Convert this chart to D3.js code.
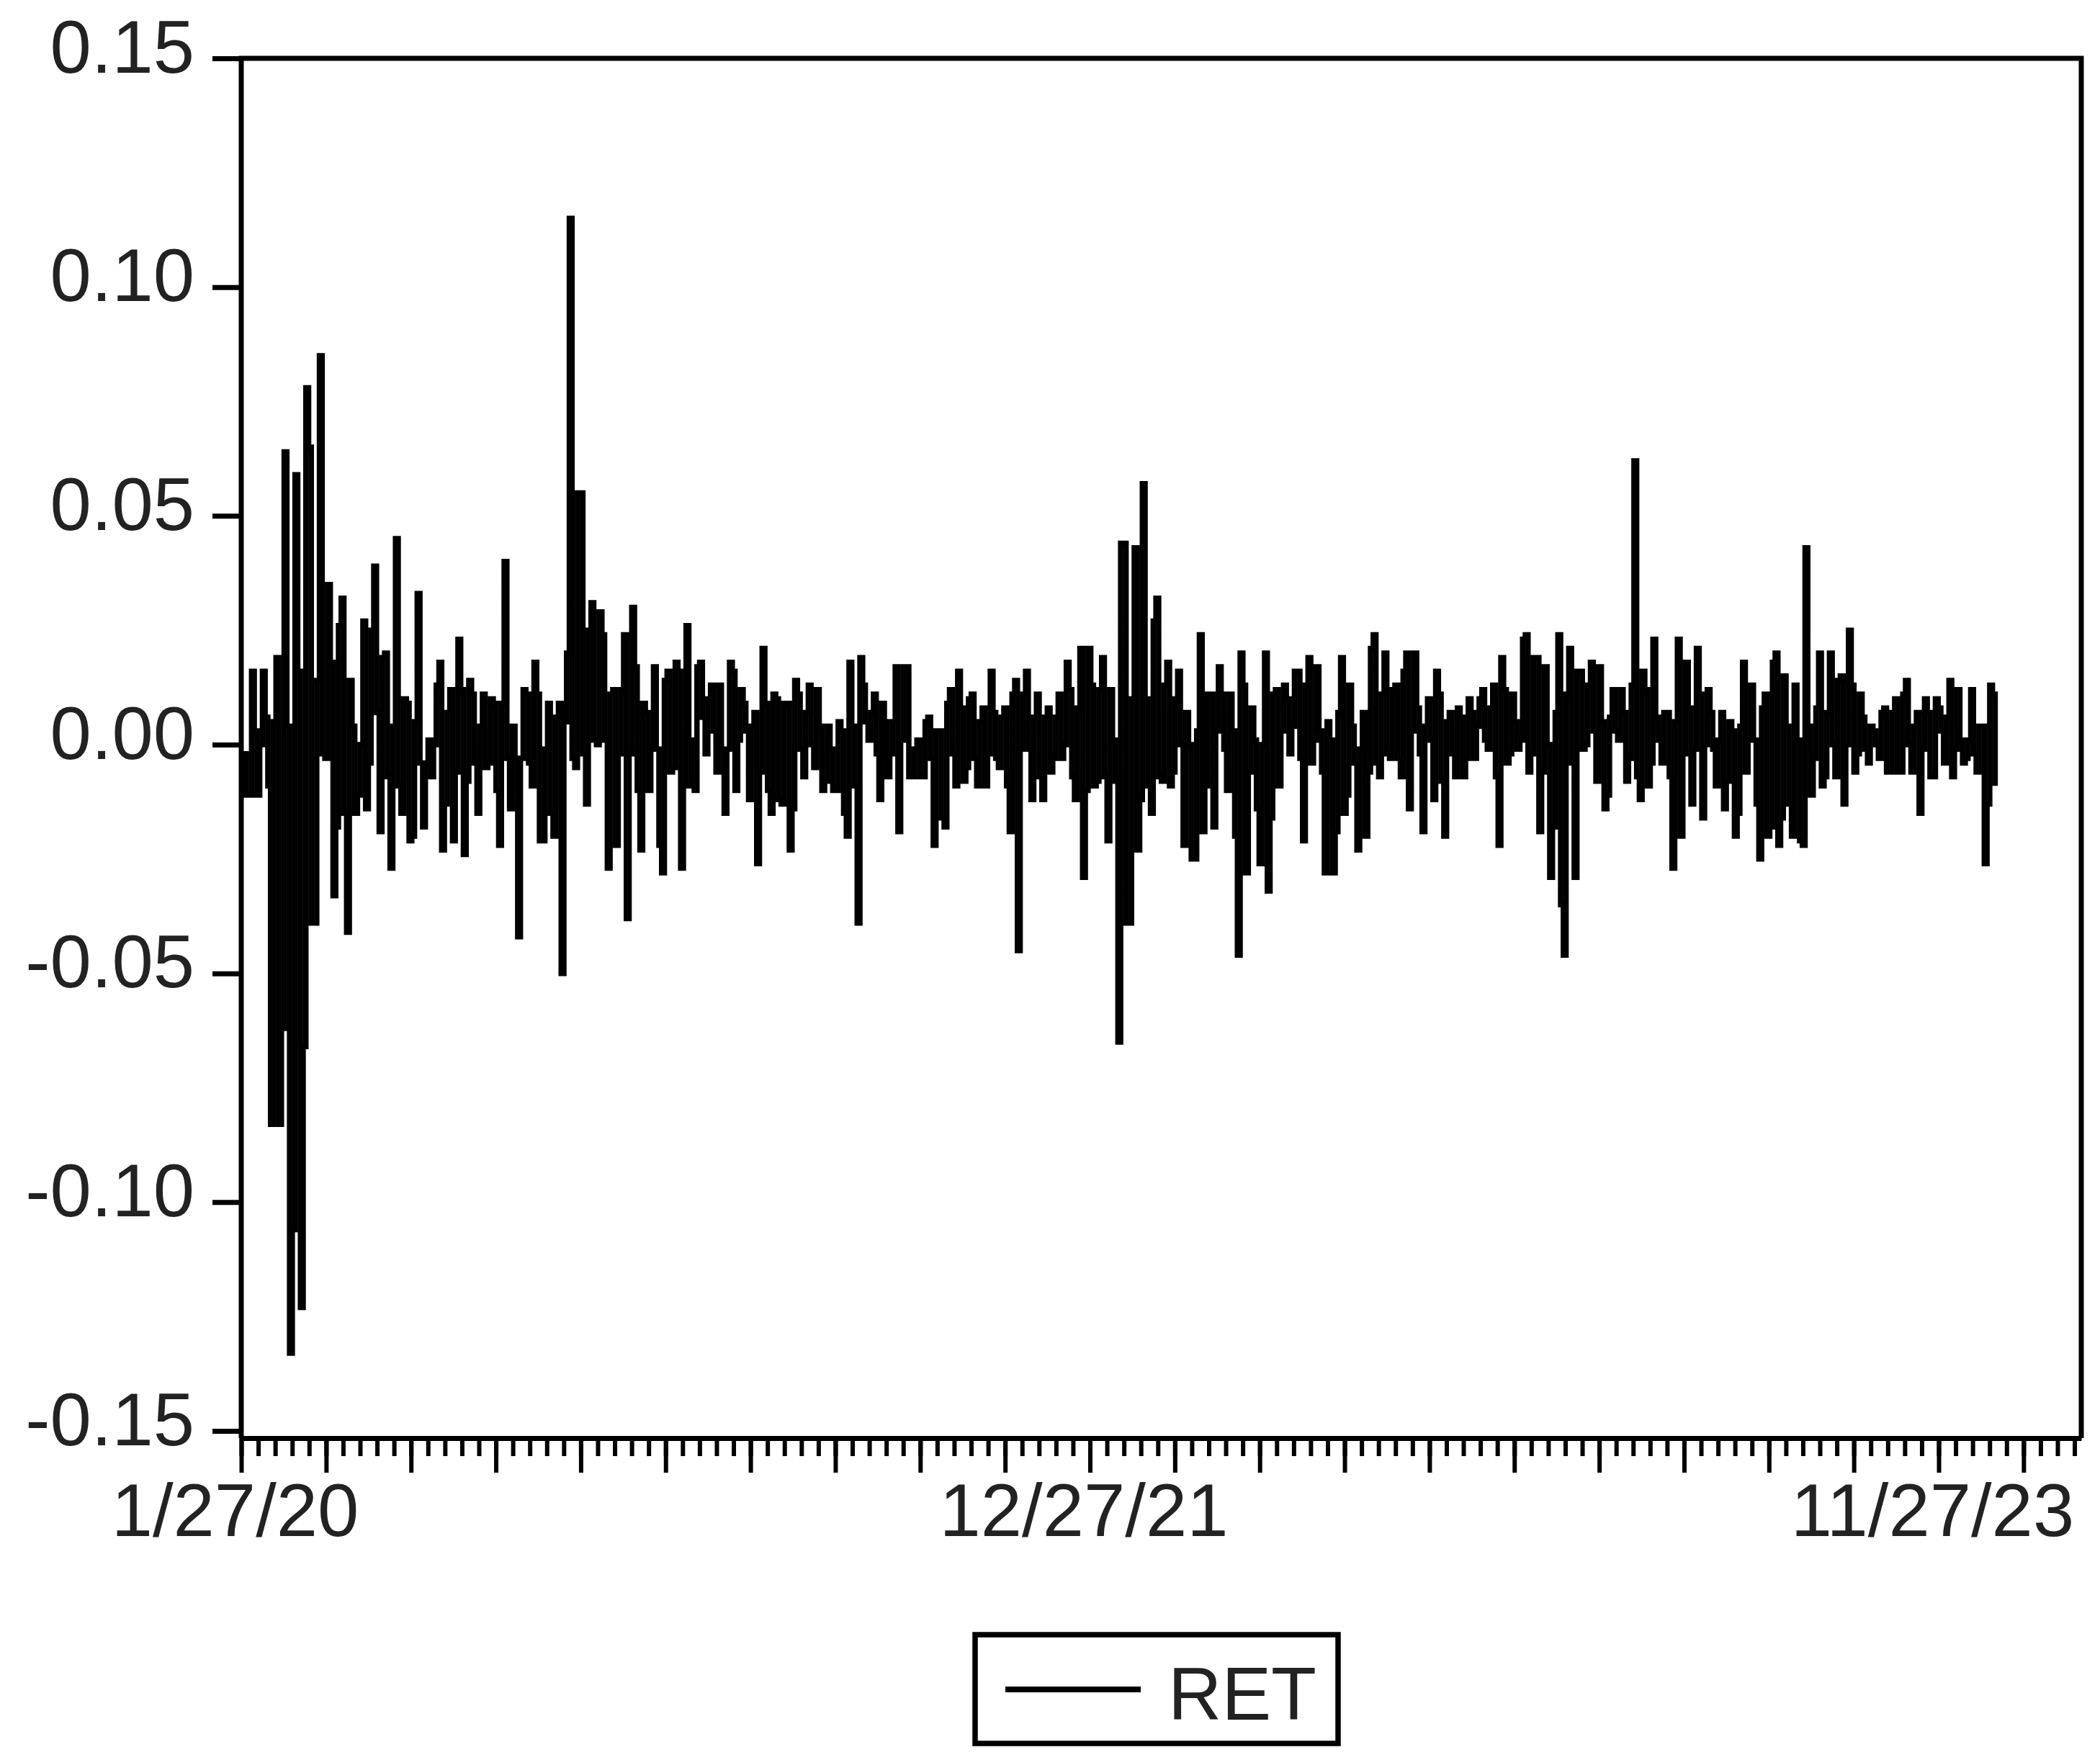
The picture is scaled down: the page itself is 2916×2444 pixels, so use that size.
<!DOCTYPE html>
<html><head><meta charset="utf-8">
<script src="https://cdn.jsdelivr.net/npm/d3@7"></script>
<style>
html,body{margin:0;padding:0;background:#fff;}
svg{display:block;}
text{font-family:"Liberation Sans", Arial, "DejaVu Sans", sans-serif;}
</style></head>
<body>
<svg id="chart" width="2916" height="2444"></svg>
<script>
const ret = [
 -0.002,-0.011, -0.011,0.016, 0.003,-0.011, 0.000,0.016, 0.006,-0.009,
 -0.083,0.005, 0.019,-0.083, -0.062,0.064, 0.004,-0.133, -0.106,0.059,
 0.016,-0.123, -0.066,0.078, 0.065,-0.039, -0.039,0.014, 0.085,-0.002,
 -0.003,0.035, 0.018,-0.033, -0.018,0.026, 0.032,-0.015, -0.041,0.014,
 0.004,-0.015, -0.011,0.000, 0.027,-0.014, -0.004,0.025, 0.039,0.007,
 -0.019,0.019, 0.020,-0.007, -0.027,0.004, 0.045,-0.009, -0.015,0.010,
 0.009,-0.021, -0.020,0.005, 0.033,-0.004, -0.018,-0.004, 0.001,-0.007,
 0.000,0.013, 0.018,-0.023, -0.013,0.007, 0.012,-0.021, -0.006,0.023,
 0.012,-0.024, -0.008,0.014, 0.011,-0.004, -0.015,0.004, 0.011,-0.005,
 -0.004,0.010, 0.009,-0.010, -0.022,0.009, 0.040,-0.003, -0.014,0.004,
 -0.003,-0.042, -0.003,0.012, 0.011,-0.004, -0.009,0.018, 0.011,-0.021,
 -0.021,-0.001, 0.009,-0.015, -0.020,0.006, 0.009,-0.050, 0.005,0.020,
 0.115,-0.003, -0.005,0.055, 0.055,-0.002, -0.013,0.025, 0.031,0.001,
 0.000,0.029, 0.024,0.001, -0.027,0.011, 0.012,-0.022, -0.002,0.012,
 0.024,-0.038, -0.002,0.030, 0.017,-0.010, -0.023,0.009, 0.007,-0.010,
 -0.001,0.017, -0.001,-0.022, -0.028,0.014, 0.016,-0.006, -0.005,0.018,
 0.016,-0.027, -0.009,0.026, 0.001,-0.009, -0.010,0.017, 0.018,0.006,
 -0.002,0.010, 0.013,0.003, -0.006,0.013, -0.001,-0.015, -0.001,0.018,
 0.016,-0.010, 0.001,0.012, 0.009,0.003, -0.012,0.004, 0.007,-0.026,
 -0.006,0.021, 0.009,-0.010, -0.015,0.011, 0.010,-0.012, -0.013,0.009,
 0.009,-0.023, -0.014,0.014, 0.011,-0.001, -0.007,0.007, 0.013,0.000,
 -0.005,0.012, 0.004,-0.010, -0.008,0.004, -0.001,-0.010, -0.010,0.005,
 0.003,-0.015, -0.020,0.018, 0.004,-0.009, -0.039,0.019, 0.013,0.005,
 0.001,0.007, 0.011,-0.002, -0.012,0.009, 0.005,-0.007, -0.002,0.005,
 0.017,-0.019, 0.001,0.017, 0.017,-0.007, -0.007,-0.001, 0.001,-0.007,
 -0.007,0.005, 0.006,-0.003, -0.022,0.003, 0.003,-0.016, -0.018,0.009,
 0.012,-0.002, -0.009,0.016, 0.008,-0.008, -0.005,0.010, 0.011,-0.003,
 -0.009,0.005, 0.008,-0.009, -0.002,0.016, 0.007,-0.003, -0.005,0.006,
 0.008,-0.009, -0.019,0.011, 0.014,-0.045, -0.001,0.011, 0.016,-0.001,
 -0.012,0.006, 0.011,-0.007, -0.012,0.006, 0.008,-0.006, -0.003,0.006,
 0.011,-0.003, 0.000,0.018, 0.012,-0.007, -0.012,0.008, 0.021,-0.029,
 -0.010,0.021, 0.013,-0.009, -0.008,0.012, 0.019,-0.007, -0.021,0.012,
 0.001,-0.008, -0.065,0.044, 0.044,-0.039, -0.039,0.010, 0.043,-0.023,
 -0.012,0.057, 0.010,-0.009, -0.015,0.027, 0.032,-0.007, -0.008,0.013,
 0.018,-0.009, -0.006,0.010, 0.016,0.000, -0.022,0.007, 0.000,-0.025,
 -0.025,0.003, 0.024,-0.019, -0.009,0.011, 0.011,-0.018, 0.003,0.017,
 0.011,-0.001, -0.010,0.011, 0.003,-0.020, -0.046,0.020, 0.013,-0.028,
 -0.006,0.008, 0.001,-0.014, -0.026,0.000, 0.020,-0.032, -0.016,0.011,
 0.012,-0.009, 0.003,0.013, 0.010,-0.002, 0.004,0.016, 0.016,-0.003,
 -0.021,0.013, 0.019,-0.004, 0.001,0.017, 0.003,-0.006, -0.028,0.005,
 0.001,-0.028, -0.019,0.007, 0.019,-0.015, -0.011,0.013, 0.004,-0.004,
 -0.023,-0.001, 0.007,-0.020, -0.006,0.021, 0.024,-0.004, -0.007,0.011,
 0.020,-0.002, -0.003,0.012, 0.013,-0.003, -0.007,0.016, 0.020,-0.014,
 0.003,0.020, 0.008,-0.002, -0.019,0.004, 0.010,0.001, -0.012,0.016,
 0.011,-0.008, -0.020,0.005, 0.007,-0.002, -0.007,0.008, 0.006,-0.007,
 -0.003,0.010, 0.007,-0.003, 0.004,0.010, 0.012,0.001, -0.001,0.008,
 0.013,-0.007, -0.022,0.019, 0.012,-0.004, -0.002,0.011, 0.005,-0.001,
 0.001,0.023, 0.024,-0.006, -0.002,0.019, 0.019,-0.019, -0.006,0.017,
 0.000,-0.029, -0.018,0.007, 0.024,-0.035, -0.046,0.011, 0.021,-0.004,
 -0.029,0.016, 0.016,-0.001, 0.000,0.013, 0.018,0.003, -0.008,0.017,
 0.005,-0.014, -0.011,0.006, 0.012,0.003, 0.001,0.012, 0.007,-0.008,
 -0.003,0.013, 0.062,-0.007, -0.012,0.016, 0.012,-0.009, -0.004,0.023,
 0.006,0.001, -0.004,0.007, 0.007,-0.007, -0.027,0.005, 0.023,-0.020,
 -0.002,0.018, 0.008,-0.013, -0.001,0.021, 0.011,-0.016, 0.000,0.012,
 0.007,-0.001, -0.009,0.001, 0.007,-0.014, -0.008,0.005, 0.003,-0.020,
 -0.015,0.004, 0.018,-0.006, 0.001,0.013, 0.001,-0.013, -0.025,0.008,
 0.011,-0.020, -0.018,0.018, 0.020,-0.022, -0.016,0.015, 0.004,-0.013,
 -0.020,0.013, 0.001,-0.021, -0.022,0.043, 0.004,-0.011, -0.003,0.008,
 0.020,-0.009, -0.007,0.007, 0.020,0.000, -0.007,0.014, 0.015,-0.013,
 0.000,0.025, 0.013,-0.006, -0.002,0.011, 0.006,-0.001, -0.004,0.004,
 0.003,0.000, -0.003,0.007, 0.008,-0.006, -0.006,0.007, 0.010,-0.006,
 -0.006,0.011, 0.014,0.000, -0.006,0.004, 0.007,-0.015, -0.001,0.010,
 0.007,-0.007, -0.007,0.010, 0.008,0.003, -0.004,0.006, 0.014,-0.007,
 -0.001,0.012, 0.001,-0.004, -0.003,0.001, 0.012,-0.002, -0.006,0.004,
 0.004,-0.026, -0.013,0.013, 0.011,-0.009
];
const obsStart = 1.27, obsStep = 1.6;       // observation index of first value, spacing
const xMinorTickObs = d3.range(0, 1081, 10);
const xMajorTickObs = d3.range(0, 1051, 50);
const xLabelObs = [0, 500, 1000];
const xLabels = ["1/27/20", "12/27/21", "11/27/23"];
const yTicks = [-0.15, -0.10, -0.05, 0, 0.05, 0.10, 0.15];
const yTickLabels = ["-0.15", "-0.10", "-0.05", "0.00", "0.05", "0.10", "0.15"];
const seriesName = "RET";

const W = 2916, H = 2444;
const L = 335, R = 2890, T = 81, B = 1987, AX = 1997;
const FS = 103;
const svg = d3.select("#chart");
svg.append("rect").attr("width", W).attr("height", H).attr("fill", "#fff");

const x = d3.scaleLinear().domain([0, 1084]).range([L, R]);
const y = d3.scaleLinear().domain([-0.15, 0.15]).range([B, T]);

// series line (pixel-column look of the original: step after each observation)
svg.append("path").datum(ret)
  .attr("fill", "none").attr("stroke", "#000").attr("stroke-width", 7.5)
  .attr("stroke-linejoin", "miter").attr("stroke-miterlimit", 2)
  .attr("d", d3.line().curve(d3.curveStepAfter)
    .x((d, i) => x(obsStart + i * obsStep)).y(d => y(d)));

// frame (left, top, right)
svg.append("path").attr("d", `M${L},${AX}V${T}H${R}V${AX}`)
  .attr("fill", "none").attr("stroke", "#000").attr("stroke-width", 7);

// y axis
const gy = svg.append("g").attr("transform", `translate(${L},0)`)
  .call(d3.axisLeft(y).tickValues(yTicks).tickSize(40).tickPadding(25)
    .tickFormat(d => yTickLabels[yTicks.indexOf(d)]));
gy.select(".domain").remove();
gy.selectAll(".tick line").attr("stroke", "#000").attr("stroke-width", 7);
gy.selectAll(".tick text").attr("font-size", FS).attr("fill", "#222")
  .attr("font-family", '"Liberation Sans", Arial, sans-serif').attr("dy", 19);

// x axis minor ticks + axis line
const gxm = svg.append("g").attr("transform", `translate(0,${AX})`)
  .call(d3.axisBottom(x).tickValues(xMinorTickObs).tickSize(25).tickSizeOuter(0).tickFormat(""));
gxm.select(".domain").attr("stroke", "#000").attr("stroke-width", 7);
gxm.selectAll(".tick line").attr("stroke", "#000").attr("stroke-width", 6);

// x axis major ticks + labels
const gxM = svg.append("g").attr("transform", `translate(0,${AX})`)
  .call(d3.axisBottom(x).tickValues(xMajorTickObs).tickSize(48).tickPadding(15).tickSizeOuter(0)
    .tickFormat(d => { const i = xLabelObs.indexOf(d); return i >= 0 ? xLabels[i] : ""; }));
gxM.select(".domain").remove();
gxM.selectAll(".tick line").attr("stroke", "#000").attr("stroke-width", 6);
gxM.selectAll(".tick text").attr("font-size", FS).attr("fill", "#222")
  .attr("font-family", '"Liberation Sans", Arial, sans-serif').attr("dx", -9);

// legend
const lg = svg.append("g");
lg.append("rect").attr("x", 1354).attr("y", 2270).attr("width", 504).attr("height", 151)
  .attr("fill", "#fff").attr("stroke", "#000").attr("stroke-width", 7.5);
lg.append("line").attr("x1", 1396).attr("x2", 1584).attr("y1", 2346).attr("y2", 2346)
  .attr("stroke", "#000").attr("stroke-width", 8);
lg.append("text").attr("x", 1622).attr("y", 2388).attr("font-size", FS).attr("fill", "#222")
  .text(seriesName);
</script>
</body></html>
